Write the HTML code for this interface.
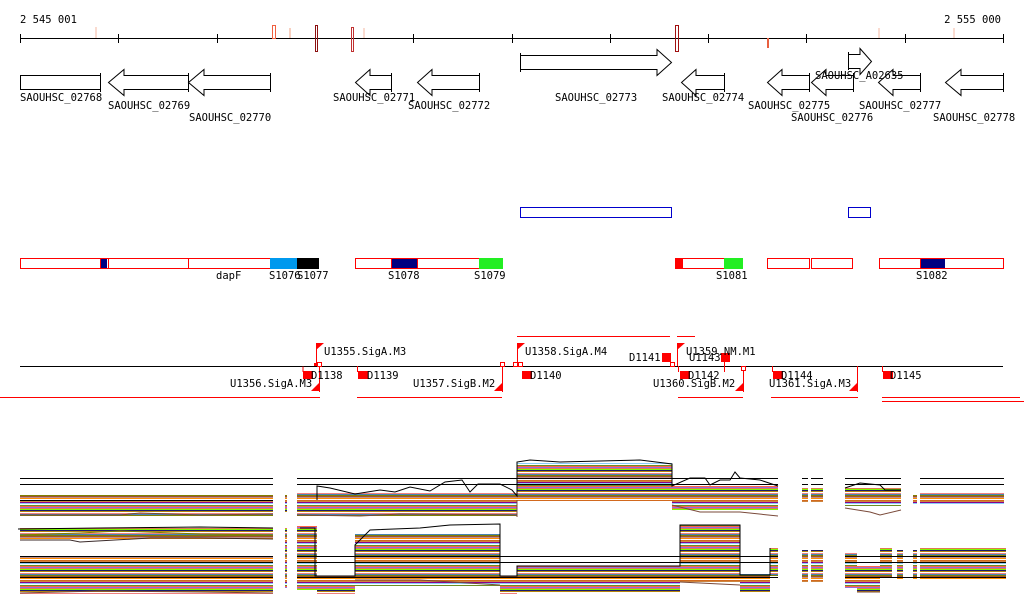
<!DOCTYPE html>
<html><head><meta charset="utf-8"><style>
html,body{margin:0;padding:0;background:#fff}
svg{display:block}
text{font-family:"DejaVu Sans Mono","Liberation Mono",monospace;font-size:10.5px;fill:#000}
</style></head><body>
<svg width="1024" height="611" viewBox="0 0 1024 611" xmlns="http://www.w3.org/2000/svg">
<defs>
<pattern id="st" width="10" height="20" patternUnits="userSpaceOnUse">
<rect x="0" y="0" width="10" height="1" fill="#d2691e"/>
<rect x="0" y="1" width="10" height="1" fill="#cd853f"/>
<rect x="0" y="2" width="10" height="1" fill="#8b008b"/>
<rect x="0" y="3" width="10" height="1" fill="#87cefa"/>
<rect x="0" y="4" width="10" height="1" fill="#fff"/>
<rect x="0" y="5" width="10" height="1" fill="#6b8e23"/>
<rect x="0" y="6" width="10" height="1" fill="#ff6347"/>
<rect x="0" y="7" width="10" height="1" fill="#9370db"/>
<rect x="0" y="8" width="10" height="1" fill="#e07a50"/>
<rect x="0" y="9" width="10" height="1" fill="#7cfc00"/>
<rect x="0" y="10" width="10" height="1" fill="#191970"/>
<rect x="0" y="11" width="10" height="1" fill="#b8860b"/>
<rect x="0" y="12" width="10" height="1" fill="#fff"/>
<rect x="0" y="13" width="10" height="1" fill="#f08080"/>
<rect x="0" y="14" width="10" height="1" fill="#4682b4"/>
<rect x="0" y="15" width="10" height="1" fill="#808000"/>
<rect x="0" y="16" width="10" height="1" fill="#a0522d"/>
<rect x="0" y="17" width="10" height="1" fill="#bc8f8f"/>
<rect x="0" y="18" width="10" height="1" fill="#ff8c00"/>
<rect x="0" y="19" width="10" height="1" fill="#fff"/>
</pattern>
</defs>

<!-- ruler -->
<text x="20" y="23">2 545 001</text>
<text x="1001" y="23" text-anchor="end">2 555 000</text>
<g stroke="#000" stroke-width="1">
<line x1="20" y1="38.5" x2="1003" y2="38.5"/>
<path d="M20.5 34V43M118.5 34V43M217.5 34V43M315.5 34V43M413.5 34V43M512.5 34V43M610.5 34V43M708.5 34V43M806.5 34V43M905.5 34V43M1003.5 34V43"/>
</g>
<g fill="none">
<rect x="95" y="27" width="2" height="11" fill="#fadbd0"/>
<rect x="272.5" y="25.5" width="3" height="13" stroke="#f06040"/>
<rect x="289" y="28" width="2" height="10" fill="#f8d0c0"/>
<rect x="315.5" y="25.5" width="2" height="26" stroke="#8b1010"/>
<rect x="351.5" y="27.5" width="2" height="24" stroke="#c03030"/>
<rect x="363" y="28" width="2" height="10" fill="#fadbd0"/>
<rect x="675.5" y="25.5" width="3" height="26" stroke="#a01010"/>
<rect x="767" y="38" width="2" height="10" fill="#e86040"/>
<rect x="878" y="28" width="2" height="10" fill="#fadbd0"/>
<rect x="953" y="28" width="2" height="10" fill="#fadbd0"/>
</g>

<!-- genes -->
<g fill="#fff" stroke="#000" stroke-width="1">
<rect x="20.5" y="75.5" width="80" height="14"/>
<line x1="100.5" y1="73" x2="100.5" y2="92"/>
<path d="M188.5 75.5H124V69.5L108.5 82.5L124 95.5V89.5H188.5"/><line x1="188.5" y1="73" x2="188.5" y2="92"/>
<path d="M270.5 75.5H204V69.5L188.5 82.5L204 95.5V89.5H270.5"/><line x1="270.5" y1="73" x2="270.5" y2="92"/>
<path d="M391.5 75.5H370V69.5L355.5 82.5L370 95.5V89.5H391.5"/><line x1="391.5" y1="73" x2="391.5" y2="92"/>
<path d="M479.5 75.5H432V69.5L417.5 82.5L432 95.5V89.5H479.5"/><line x1="479.5" y1="73" x2="479.5" y2="92"/>
<line x1="520.5" y1="53" x2="520.5" y2="72"/><path d="M520.5 55.5H657V49.5L671.5 62.5L657 75.5V69.5H520.5Z"/>
<path d="M724.5 75.5H696V69.5L681.5 82.5L696 95.5V89.5H724.5"/><line x1="724.5" y1="73" x2="724.5" y2="92"/>
<path d="M809.5 75.5H782V69.5L767.5 82.5L782 95.5V89.5H809.5"/><line x1="809.5" y1="73" x2="809.5" y2="92"/>
<path d="M853.5 75.5H826V69.5L811.5 82.5L826 95.5V89.5H853.5"/><line x1="853.5" y1="73" x2="853.5" y2="92"/>
<line x1="848.5" y1="52" x2="848.5" y2="70"/><path d="M848.5 54.5H860V48.5L871.5 61.5L860 74.5V68.5H848.5Z"/>
<path d="M920.5 75.5H893V69.5L878.5 82.5L893 95.5V89.5H920.5"/><line x1="920.5" y1="73" x2="920.5" y2="92"/>
<path d="M1003.5 75.5H961V69.5L945.5 82.5L961 95.5V89.5H1003.5"/><line x1="1003.5" y1="73" x2="1003.5" y2="92"/>
</g>
<text x="20" y="101">SAOUHSC_02768</text>
<text x="108" y="109">SAOUHSC_02769</text>
<text x="189" y="121">SAOUHSC_02770</text>
<text x="333" y="101">SAOUHSC_02771</text>
<text x="408" y="109">SAOUHSC_02772</text>
<text x="555" y="101">SAOUHSC_02773</text>
<text x="662" y="101">SAOUHSC_02774</text>
<text x="748" y="109">SAOUHSC_02775</text>
<text x="815" y="79">SAOUHSC_A02635</text>
<text x="791" y="121">SAOUHSC_02776</text>
<text x="859" y="109">SAOUHSC_02777</text>
<text x="933" y="121">SAOUHSC_02778</text>

<!-- blue rects -->
<g fill="none" stroke="#0000cc">
<rect x="520.5" y="207.5" width="151" height="10"/>
<rect x="848.5" y="207.5" width="22" height="10"/>
</g>

<!-- red bar track -->
<g stroke="#ff0000" fill="#fff">
<rect x="20.5" y="258.5" width="80" height="10"/>
<rect x="100.5" y="258.5" width="8" height="10"/>
<rect x="108.5" y="258.5" width="80" height="10"/>
<rect x="188.5" y="258.5" width="82" height="10"/>
<rect x="355.5" y="258.5" width="36" height="10"/>
<rect x="391.5" y="258.5" width="26" height="10"/>
<rect x="417.5" y="258.5" width="62" height="10"/>
<rect x="675.5" y="258.5" width="49" height="10"/>
<rect x="767.5" y="258.5" width="42" height="10"/>
<rect x="811.5" y="258.5" width="41" height="10"/>
<rect x="879.5" y="258.5" width="41" height="10"/>
<rect x="920.5" y="258.5" width="83" height="10"/>
</g>
<rect x="101" y="259" width="6" height="9" fill="#000080"/>
<rect x="270" y="258" width="27" height="11" fill="#0099ee"/>
<rect x="297" y="258" width="22" height="11" fill="#000"/>
<rect x="392" y="259" width="25" height="9" fill="#000080"/>
<rect x="479" y="258" width="24" height="11" fill="#22ee22"/>
<rect x="675" y="258" width="8" height="11" fill="#ff0000"/>
<rect x="724" y="258" width="19" height="11" fill="#22ee22"/>
<rect x="921" y="259" width="24" height="9" fill="#000080"/>
<text x="216" y="279">dapF</text>
<text x="269" y="279">S1076</text>
<text x="297" y="279">S1077</text>
<text x="388" y="279">S1078</text>
<text x="474" y="279">S1079</text>
<text x="716" y="279">S1081</text>
<text x="916" y="279">S1082</text>

<!-- operon track -->
<line x1="20" y1="366.5" x2="1003" y2="366.5" stroke="#000"/>
<g stroke="#ff0000" fill="none">
<path d="M517 336.5H670M677 336.5H695"/>
<path d="M0 397.5H320M357 397.5H502M678 397.5H743M771 397.5H858M882 397.5H1020M882 401.5H1024"/>
<path d="M316.5 344V366M517.5 344V366M677.5 344V366M303 366.5V372M319.5 366.5V392M357.5 366V372M502.5 366V392M724.5 358V372M670.5 358V366M743.5 366V392M772.5 366V372M857.5 366V392M882.5 366V372M678.5 366V372"/>
<rect x="317.5" y="362.5" width="4" height="4" fill="#fff"/>
<rect x="500.5" y="362.5" width="4" height="4" fill="#fff"/>
<rect x="513.5" y="362.5" width="4" height="4" fill="#fff"/>
<rect x="518.5" y="362.5" width="4" height="4" fill="#fff"/>
<rect x="670.5" y="362.5" width="4" height="4" fill="#fff"/>
<rect x="741.5" y="366.5" width="4" height="4" fill="#fff"/>
</g>
<g fill="#ff0000">
<path d="M316 343H324L316 350Z"/><path d="M517 343H525L517 350Z"/><path d="M677 343H685L677 350Z"/>
<path d="M319 383V391H311Z"/><path d="M502 383V391H494Z"/><path d="M743 383V391H735Z"/><path d="M857 383V391H849Z"/>
<rect x="314" y="363" width="3" height="3"/>
<rect x="303" y="371" width="10" height="8"/><rect x="358" y="371" width="10" height="8"/>
<rect x="522" y="371" width="10" height="8"/><rect x="662" y="353" width="9" height="9"/>
<rect x="721" y="353" width="9" height="9"/><rect x="680" y="371" width="10" height="8"/>
<rect x="773" y="371" width="10" height="8"/><rect x="883" y="371" width="10" height="8"/>
</g>
<text x="324" y="355">U1355.SigA.M3</text>
<text x="230" y="387">U1356.SigA.M3</text>
<text x="311" y="379">D1138</text>
<text x="367" y="379">D1139</text>
<text x="413" y="387">U1357.SigB.M2</text>
<text x="525" y="355">U1358.SigA.M4</text>
<text x="530" y="379">D1140</text>
<text x="629" y="361">D1141</text>
<text x="686" y="355">U1359.NM.M1</text>
<text x="689" y="361">U1143</text>
<text x="688" y="379">D1142</text>
<text x="653" y="387">U1360.SigB.M2</text>
<text x="781" y="379">D1144</text>
<text x="769" y="387">U1361.SigA.M3</text>
<text x="890" y="379">D1145</text>

<!-- top graph panel -->
<g fill="url(#st)">
<rect x="20" y="495" width="253" height="21"/>
<rect x="285" y="495" width="2" height="18"/>
<rect x="297" y="492" width="220" height="24"/>
<rect x="517" y="463" width="155" height="38"/>
<rect x="672" y="486" width="106" height="24"/>
<rect x="802" y="488" width="6" height="14"/>
<rect x="811" y="488" width="12" height="14"/>
<rect x="845" y="488" width="56" height="18"/>
<rect x="913" y="495" width="4" height="10"/>
<rect x="920" y="493" width="84" height="12"/>
</g>
<g stroke="#000" fill="none">
<path d="M20 478.5H273M20 484.5H273M20 500.5H273M297 478.5H778M297 484.5H778M845 478.5H901M845 484.5H901M920 478.5H1004M920 484.5H1004M802 478.5H808M802 484.5H808M811 478.5H823M811 484.5H823"/>
<path d="M317 500V486L330 488L355 494L380 490L395 492L410 487L430 491L445 482L462 480L470 492L478 484L500 484L512 490L517 496V462L530 460L560 462L600 461L640 460L672 464V486L690 478L705 478L710 485L720 480L730 480L735 472L740 478L760 480L778 486"/>
<path d="M845 488L860 483L880 485L885 490L901 490"/>
</g>
<g stroke="#7a4a3a" fill="none">
<path d="M20 515H120L140 513L200 515L273 514M297 515L360 516L400 514L517 515M517 500V517M672 505L700 512L740 512L778 516M845 508L870 512L880 515L901 510"/>
</g>

<!-- bottom graph panel -->
<g fill="url(#st)">
<rect x="20" y="528" width="253" height="12"/>
<rect x="20" y="556" width="253" height="38"/>
<rect x="285" y="528" width="2" height="60"/>
<rect x="297" y="526" width="20" height="64"/>
<rect x="317" y="576" width="38" height="18"/>
<rect x="355" y="534" width="145" height="52"/>
<rect x="500" y="576" width="17" height="18"/>
<rect x="517" y="566" width="163" height="26"/>
<rect x="680" y="525" width="60" height="57"/>
<rect x="740" y="574" width="30" height="18"/>
<rect x="770" y="548" width="8" height="28"/>
<rect x="802" y="550" width="6" height="32"/>
<rect x="811" y="550" width="12" height="32"/>
<rect x="845" y="553" width="12" height="35"/>
<rect x="857" y="566" width="23" height="26"/>
<rect x="880" y="548" width="12" height="30"/>
<rect x="897" y="550" width="6" height="30"/>
<rect x="913" y="550" width="4" height="30"/>
<rect x="920" y="548" width="86" height="32"/>
</g>
<g stroke="#000" fill="none">
<path d="M20 556.5H273M20 562.5H273M20 577.5H273M297 556.5H778M297 562.5H778M297 577.5H778M845 556.5H1006M845 562.5H1006M845 577.5H1006"/>
<path d="M18 529L100 528L200 527L273 528M300 528H315V576H355V545L370 530L420 528L450 525L500 524V576H517V566H680V525H740V575H770V548"/>
</g>
<g stroke="#808000" fill="none"><path d="M20 535L80 533L120 531L200 534L273 535"/></g>
<g stroke="#3a2a2a" fill="none"><path d="M20 540L70 540L80 542L150 538L200 538L273 539"/></g>
<g stroke="#7a4a3a" fill="none"><path d="M20 593L100 591L200 592L273 593M355 580L420 580L500 585M857 592H880M680 582L740 585"/></g>
</svg>
</body></html>
